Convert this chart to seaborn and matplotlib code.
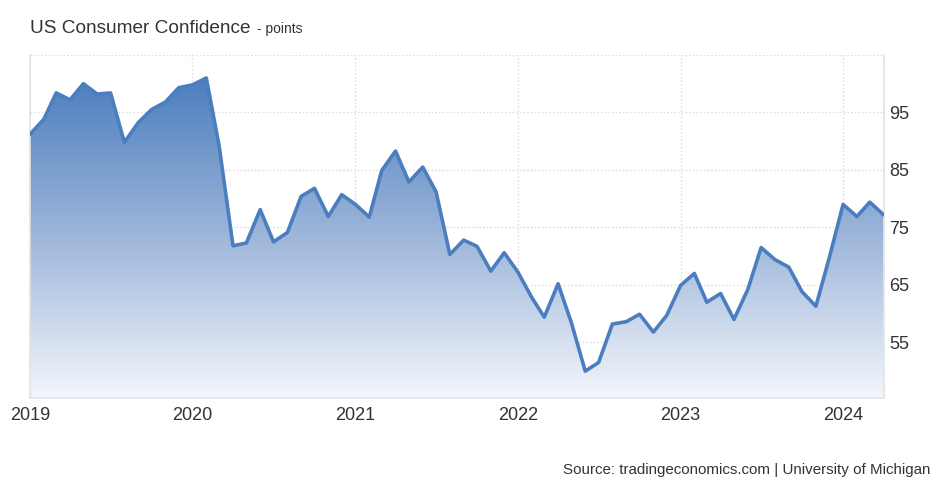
import numpy as np
import pandas as pd
import matplotlib.pyplot as plt
import matplotlib.dates as mdates
from matplotlib.colors import LinearSegmentedColormap
import seaborn as sns

# monthly readings, Jan 2019 .. Apr 2024
months = pd.date_range('2019-01-01', '2024-04-01', freq='MS')
values = [
    91.2, 93.8, 98.4, 97.2, 100.0, 98.2, 98.4, 89.8, 93.2, 95.5, 96.8, 99.3,
    99.8, 101.0, 89.1, 71.8, 72.3, 78.1, 72.5, 74.1, 80.4, 81.8, 76.9, 80.7,
    79.0, 76.8, 84.9, 88.3, 82.9, 85.5, 81.2, 70.3, 72.8, 71.7, 67.4, 70.6,
    67.2, 62.8, 59.4, 65.2, 58.4, 50.0, 51.5, 58.2, 58.6, 59.9, 56.8, 59.7,
    64.9, 67.0, 62.0, 63.5, 59.0, 64.2, 71.5, 69.4, 68.1, 63.8, 61.3, 69.7,
    79.0, 76.9, 79.4, 77.2,
]
ytick_vals = [55, 65, 75, 85, 95]
year_ticks = ['2019', '2020', '2021', '2022', '2023', '2024']

df = pd.DataFrame({'month': months, 'value': values})

sns.set_style('white')
plt.rcParams['font.family'] = ['Liberation Sans', 'DejaVu Sans']

fig = plt.figure(figsize=(9.36, 4.78), dpi=100)
ax = fig.add_axes([0.032, 0.167, 0.912, 0.718])

ymin, ymax = 45.3, 105
x0 = pd.Timestamp('2019-01-01')
x1 = pd.Timestamp('2024-04-01')

# gradient fill under the line
poly = ax.fill_between(df['month'], df['value'], ymin, color='none', lw=0)
cmap = LinearSegmentedColormap.from_list('fade', ['#f3f6fb', '#9db6da', '#4a7dbd'])
grad = np.linspace(0, 1, 256).reshape(-1, 1)
img = ax.imshow(grad, cmap=cmap, aspect='auto', origin='lower',
                extent=[mdates.date2num(x0), mdates.date2num(x1), ymin, 101.5],
                zorder=1)
img.set_clip_path(poly.get_paths()[0], transform=ax.transData)

sns.lineplot(data=df, x='month', y='value', ax=ax, color='#4a7ebf', lw=2.6, zorder=3)

ax.set_xlim(x0, x1)
ax.set_ylim(ymin, ymax)

ax.set_xticks([pd.Timestamp(y + '-01-01') for y in year_ticks])
ax.set_xticklabels(year_ticks)
ax.set_yticks(ytick_vals + [105])
ax.set_yticklabels([str(v) for v in ytick_vals] + [''])
ax.yaxis.tick_right()
ax.tick_params(axis='both', length=0, labelsize=13, colors='#333333')
ax.tick_params(axis='y', pad=4)
ax.tick_params(axis='x', pad=6)

ax.grid(True, color='#d9d9d9', ls=':', lw=1)
ax.set_axisbelow(True)
ax.spines['top'].set_visible(False)
for s in ['left', 'right', 'bottom']:
    ax.spines[s].set_color('#e3e3e3')
    ax.spines[s].set_linewidth(1.2)
ax.set_xlabel('')
ax.set_ylabel('')

fig.text(0.032, 0.931, 'US Consumer Confidence', fontsize=13.7, color='#333333', va='baseline')
fig.text(0.275, 0.931, '- points', fontsize=10, color='#333333', va='baseline')
fig.text(0.994, 0.009, 'Source: tradingeconomics.com | University of Michigan',
         fontsize=10.9, color='#333333', ha='right', va='baseline')

fig.savefig('out.png', dpi=100)
